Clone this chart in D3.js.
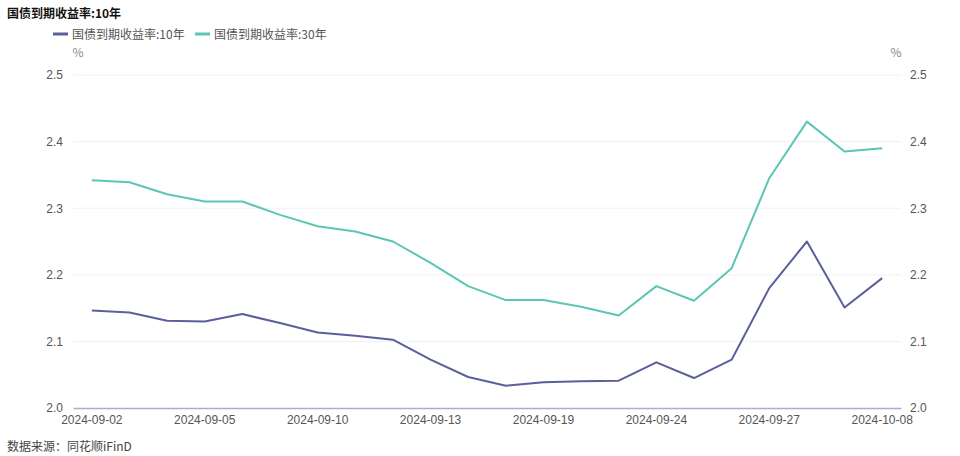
<!DOCTYPE html>
<html><head><meta charset="utf-8">
<script src="https://cdn.jsdelivr.net/npm/d3@7"></script>
<style>body{margin:0;background:#fff;}svg{display:block;font-family:"Microsoft YaHei","Noto Sans CJK SC",sans-serif;}</style>
</head><body><svg id="c" width="960" height="456"></svg>
<script>
const dates = ["2024-09-02","2024-09-03","2024-09-04","2024-09-05","2024-09-06","2024-09-09","2024-09-10","2024-09-11","2024-09-12","2024-09-13","2024-09-14","2024-09-18","2024-09-19","2024-09-20","2024-09-23","2024-09-24","2024-09-25","2024-09-26","2024-09-27","2024-09-29","2024-09-30","2024-10-08"];
const y10 = [2.1465,2.1435,2.131,2.130,2.141,2.1275,2.1135,2.1085,2.1025,2.0725,2.0465,2.0335,2.0385,2.040,2.041,2.0685,2.045,2.0725,2.180,2.250,2.151,2.195];
const y30 = [2.342,2.339,2.321,2.310,2.310,2.290,2.273,2.265,2.250,2.218,2.183,2.162,2.162,2.152,2.139,2.183,2.161,2.210,2.345,2.430,2.385,2.390];
const yTicks = [2.0,2.1,2.2,2.3,2.4,2.5];
const seriesNames = ["国债到期收益率:10年","国债到期收益率:30年"];
const colors = ["#5b5f9b","#5bc6b4"];

const svg = d3.select("#c");
const L = 73, R = 901, T = 75, B = 408;
const x = d3.scaleBand().domain(dates).range([L, R]);
const y = d3.scaleLinear().domain([2.0, 2.5]).range([B, T]);

// grid
svg.append("g").selectAll("line").data(yTicks.slice(1)).join("line")
  .attr("x1", L).attr("x2", R).attr("y1", d => y(d)).attr("y2", d => y(d))
  .attr("stroke", "#f0f1f6").attr("stroke-width", 1);

// left axis
const gl = svg.append("g").attr("transform", `translate(${L},0)`)
  .call(d3.axisLeft(y).tickValues(yTicks).tickFormat(d3.format(".1f")).tickSize(0).tickPadding(10));
gl.select(".domain").remove();
gl.selectAll("text").attr("fill", "#555").style("font-size", "12px").style("font-family", "inherit");

// right axis
const gr = svg.append("g").attr("transform", `translate(${R},0)`)
  .call(d3.axisRight(y).tickValues(yTicks).tickFormat(d3.format(".1f")).tickSize(0).tickPadding(9));
gr.select(".domain").remove();
gr.selectAll("text").attr("fill", "#555").style("font-size", "12px").style("font-family", "inherit");

// bottom axis
const labelDates = dates.filter((d, i) => i % 3 === 0);
const gb = svg.append("g").attr("transform", `translate(0,${B})`)
  .call(d3.axisBottom(x).tickValues(labelDates).tickSize(0).tickPadding(7));
gb.select(".domain").attr("stroke", "#a9aed0").attr("stroke-width", 1.5);
gb.selectAll("text").attr("fill", "#555").style("font-size", "12px").style("font-family", "inherit");

// unit labels
svg.append("text").attr("x", 78).attr("y", 57).attr("text-anchor", "middle").attr("fill", "#888").style("font-size", "12px").text("%");
svg.append("text").attr("x", 896).attr("y", 57).attr("text-anchor", "middle").attr("fill", "#888").style("font-size", "12px").text("%");

// lines
const line = d3.line().x((d, i) => x(dates[i]) + x.bandwidth() / 2).y(d => y(d));
[y10, y30].forEach((s, k) => {
  svg.append("path").datum(s).attr("d", line).attr("fill", "none")
    .attr("stroke", colors[k]).attr("stroke-width", 2).attr("stroke-linejoin", "round");
});

// title
svg.append("text").attr("x", 7).attr("y", 18).attr("fill", "#111").style("font-size", "12px").style("font-weight", "bold").text("国债到期收益率:10年");

// legend
const legX = [53, 195];
seriesNames.forEach((n, k) => {
  svg.append("line").attr("x1", legX[k]).attr("x2", legX[k] + 15).attr("y1", 34).attr("y2", 34)
    .attr("stroke", colors[k]).attr("stroke-width", 3);
  svg.append("text").attr("x", legX[k] + 19).attr("y", 38.5).attr("fill", "#555").style("font-size", "12px").text(n);
});

// source
svg.append("text").attr("x", 7).attr("y", 451).attr("fill", "#444").style("font-size", "12px").text("数据来源：同花顺iFinD");
</script>
</body></html>
